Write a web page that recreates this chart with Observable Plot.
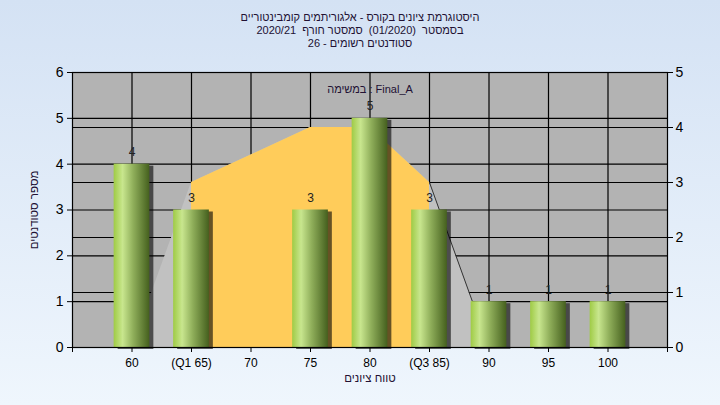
<!DOCTYPE html>
<html><head><meta charset="utf-8">
<script src="https://cdn.jsdelivr.net/npm/d3@7"></script>
<script src="https://cdn.jsdelivr.net/npm/@observablehq/plot@0.6"></script>
<style>
html,body{margin:0;padding:0;width:720px;height:405px;overflow:hidden}
body{background:linear-gradient(#d4e2f4,#eff6fd);font-family:"Liberation Sans",Arial,sans-serif}
#title{height:52px;box-sizing:border-box;padding-top:11px;text-align:center;font-size:11px;line-height:13px;color:#221133;direction:rtl;white-space:pre}
#chart svg{display:block;background:transparent}
</style></head><body>
<div id="title"></div>
<div id="chart"></div>
<script>
const titleLines = [
  "היסטוגרמת ציונים בקורס - אלגוריתמים קומבינטוריים",
  "בסמסטר  (01/2020)  סמסטר חורף  2020/21",
  "סטודנטים רשומים - 26"
];
const grades = [60, 65, 70, 75, 80, 85, 90, 95, 100];
const counts = [4, 3, 0, 3, 5, 3, 1, 1, 1];
const gradeLabels = ["60", "(Q1 65)", "70", "75", "80", "(Q3 85)", "90", "95", "100"];
const leftTicks = [0, 1, 2, 3, 4, 5, 6];
const rightTicks = [0, 1, 2, 3, 4, 5];
const curveGrades = [60, 65, 75, 80, 85, 90];
const curveValues = [0, 3, 4, 4, 3, 0];
const q1 = 65, q3 = 85;
const xDomain = [55, 105];
const legendText = "במשימה : Final_A";
const xTitle = "טווח ציונים";
const yTitle = "מספר סטודנטים";

document.getElementById("title").textContent = titleLines.join("\n");

const ratio = leftTicks[leftTicks.length - 1] / rightTicks[rightTicks.length - 1];
const bars = grades.map((g, i) => ({grade: g, count: counts[i], label: gradeLabels[i]}));
const shown = bars.filter(d => d.count > 0);
const curve = curveGrades.map((g, i) => ({grade: g, v: curveValues[i] * ratio}));
const box = curve.filter(d => d.grade >= q1 && d.grade <= q3);
const rightWhisker = curve.filter(d => d.grade >= q3);
const hw = 1.5;
const labelOf = new Map(bars.map(d => [d.grade, d.label]));
const xTicks = [xDomain[0], ...grades, xDomain[1]];

const chart = Plot.plot({
  width: 720, height: 353,
  marginTop: 20, marginBottom: 58, marginLeft: 72, marginRight: 53,
  style: {background: "transparent", fontFamily: "'Liberation Sans', Arial, sans-serif", color: "#000"},
  x: {domain: xDomain, axis: null},
  y: {domain: [leftTicks[0], leftTicks[leftTicks.length - 1]], axis: null},
  marks: [
    Plot.frame({fill: "#b3b3b3"}),
    Plot.ruleY(leftTicks.slice(1, -1), {stroke: "#000", strokeWidth: 1.2}),
    Plot.ruleY(rightTicks.slice(1, -1).map(v => v * ratio), {stroke: "#000", strokeWidth: 1.2}),
    Plot.ruleX(grades, {stroke: "#000", strokeWidth: 1.2}),
    Plot.areaY(curve, {x: "grade", y: "v", fill: "#c1c1c1"}),
    Plot.areaY(box, {x: "grade", y: "v", fill: "#ffcc5a"}),
    Plot.lineY(rightWhisker, {x: "grade", y: "v", stroke: "#333", strokeWidth: 1}),
    Plot.rectY(shown, {x1: d => d.grade - hw, x2: d => d.grade + hw, y: "count", fill: "#000", fillOpacity: 0.6, dx: 4, dy: 2, ariaLabel: "bar-shadow"}),
    Plot.rectY(shown, {x1: d => d.grade - hw, x2: d => d.grade + hw, y: "count", fill: "url(#barGrad)", ariaLabel: "bars"}),
    Plot.text(shown, {x: "grade", y: "count", text: d => String(d.count), dy: -12, fontSize: 12, fill: "#222"}),
    Plot.frame({stroke: "#000", strokeWidth: 1.2}),
    Plot.axisY(leftTicks, {anchor: "left", tickSize: 5, tickPadding: 4, fontSize: 14, label: null, tickFormat: d => String(d)}),
    Plot.axisY(rightTicks.map(v => v * ratio), {anchor: "right", tickSize: 5, tickPadding: 3, fontSize: 14, label: null, tickFormat: d => String(Math.round(d / ratio))}),
    Plot.axisX(xTicks, {anchor: "bottom", tickSize: 5, tickPadding: 6, fontSize: 12, label: null, tickFormat: d => labelOf.get(d) || ""}),
    Plot.text([legendText], {text: d => d, frameAnchor: "top", dy: 13, fontSize: 11, fill: "#221133"}),
    Plot.text([xTitle], {text: d => d, frameAnchor: "bottom", dy: 34, fontSize: 11.5, fill: "#221133"}),
    Plot.text([yTitle], {text: d => d, frameAnchor: "left", textAnchor: "middle", dx: -38, rotate: -90, fontSize: 11.5, fill: "#221133"})
  ]
});

const s = d3.select(chart);
s.insert("defs", ":first-child").html(
  '<linearGradient id="barGrad" x1="0" x2="1" y1="0" y2="0">' +
  '<stop offset="0" stop-color="#9fcb45"/>' +
  '<stop offset="0.25" stop-color="#c8e68e"/>' +
  '<stop offset="0.55" stop-color="#8fae5a"/>' +
  '<stop offset="1" stop-color="#45601e"/>' +
  '</linearGradient>' +
  '<filter id="blur" x="-50%" y="-50%" width="200%" height="200%"><feGaussianBlur stdDeviation="2"/></filter>'
);
s.select('g[aria-label="bar-shadow"]').attr("filter", "url(#blur)");
document.getElementById("chart").appendChild(chart);
</script>
</body></html>
